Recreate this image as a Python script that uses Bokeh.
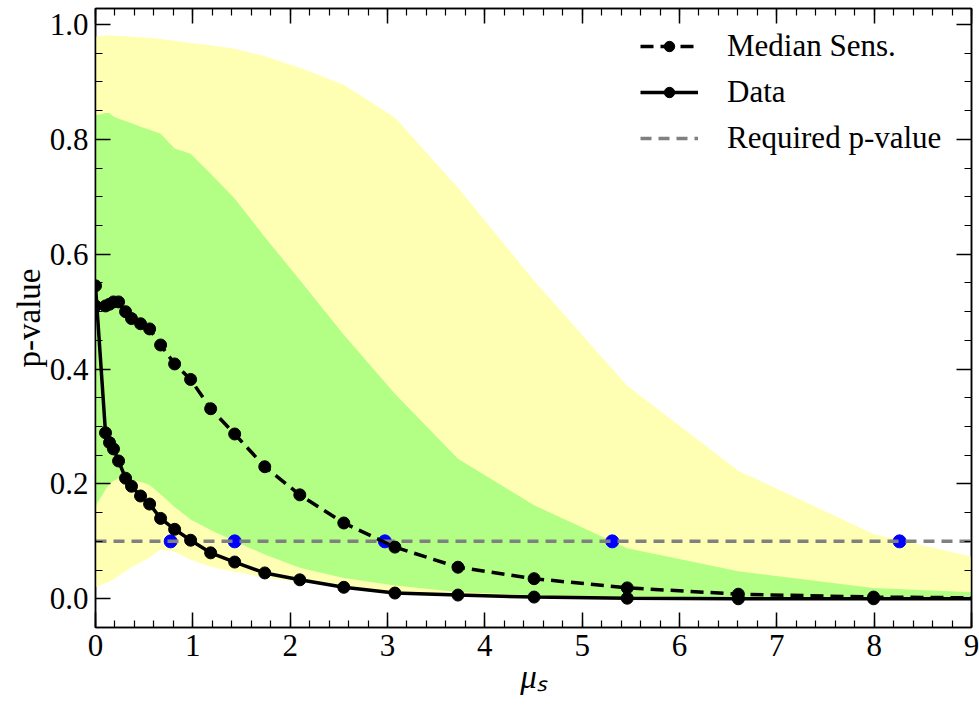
from bokeh.plotting import figure
from bokeh.models import (Range1d, LinearAxis, SingleIntervalTicker, NumeralTickFormatter,
                          CustomJSTickFormatter, Legend, LegendItem, ColumnDataSource)
from bokeh.embed import file_html
from bokeh.resources import INLINE

# ---- data ----
mu = [0.0, 0.103, 0.144, 0.185, 0.237, 0.309, 0.370, 0.463, 0.556, 0.669, 0.813, 0.977,
      1.183, 1.430, 1.739, 2.099, 2.551, 3.076, 3.724, 4.506, 5.463, 6.605, 7.994, 9.6]
median_sens = [0.510, 0.510, 0.513, 0.517, 0.517, 0.500, 0.488, 0.479, 0.470, 0.442, 0.409, 0.382,
               0.331, 0.287, 0.230, 0.181, 0.132, 0.090, 0.055, 0.035, 0.019, 0.008, 0.003, 0.001]
data_p = [0.545, 0.289, 0.272, 0.261, 0.240, 0.210, 0.196, 0.179, 0.165, 0.140, 0.121, 0.102,
          0.080, 0.064, 0.045, 0.033, 0.020, 0.010, 0.0065, 0.003, 0.001, 0.0, 0.0, 0.0]
band2_up = [0.979, 0.981, 0.981, 0.981, 0.980, 0.980, 0.979, 0.978, 0.977, 0.975, 0.972, 0.968,
            0.964, 0.958, 0.945, 0.925, 0.895, 0.838, 0.716, 0.554, 0.371, 0.223, 0.113, 0.050]
band1_up = [0.842, 0.846, 0.846, 0.840, 0.836, 0.832, 0.828, 0.822, 0.817, 0.810, 0.784, 0.775,
            0.740, 0.697, 0.630, 0.555, 0.460, 0.357, 0.244, 0.163, 0.088, 0.048, 0.019, 0.007]
band1_lo = [0.161, 0.190, 0.200, 0.205, 0.210, 0.208, 0.206, 0.204, 0.198, 0.182, 0.160, 0.138,
            0.120, 0.100, 0.077, 0.054, 0.036, 0.023, 0.012, 0.006, 0.003, 0.001, 0.0, 0.0]
band2_lo = [0.020, 0.027, 0.030, 0.033, 0.040, 0.048, 0.055, 0.063, 0.072, 0.086, 0.082, 0.068,
            0.056, 0.047, 0.037, 0.029, 0.020, 0.011, 0.005, 0.002, 0.001, 0.0, 0.0, 0.0]
required_p = 0.1
cross_mu = [0.772, 1.430, 2.973, 5.309, 8.261]

FONT = "Liberation Serif"

src = ColumnDataSource(dict(mu=mu, med=median_sens, dat=data_p, y2u=band2_up, y1u=band1_up,
                            y1l=band1_lo, y2l=band2_lo))

p = figure(frame_width=876, frame_height=619, output_backend="svg", toolbar_location=None,
           x_range=Range1d(0, 9), y_range=Range1d(-0.05, 1.028),
           min_border_left=95, min_border_right=8, min_border_top=8, min_border_bottom=79)
p.xgrid.visible = False
p.ygrid.visible = False
p.outline_line_color = "black"
p.outline_line_width = 1.5
p.background_fill_color = "white"

p.varea(x="mu", y1="y2l", y2="y2u", source=src, fill_color="#FFFFB3")
p.varea(x="mu", y1="y1l", y2="y1u", source=src, fill_color="#B3FF86")

p.scatter(cross_mu, [required_p] * len(cross_mu), size=13, color="blue")
req = p.line([0, 9], [required_p, required_p], line_color="gray", line_width=3.5, line_dash="11 7")

med_l = p.line(x="mu", y="med", source=src, line_color="black", line_width=3.5, line_dash="13 7")
med_s = p.scatter(x="mu", y="med", source=src, size=12, color="black")
dat_l = p.line(x="mu", y="dat", source=src, line_color="black", line_width=3.5)
dat_s = p.scatter(x="mu", y="dat", source=src, size=12, color="black")

# axes
def style_axis(ax, labels=True):
    ax.axis_line_color = "black"
    ax.axis_line_width = 1.5
    ax.major_tick_in = 15
    ax.major_tick_out = 0
    ax.minor_tick_in = 7
    ax.minor_tick_out = 0
    ax.major_tick_line_width = 1.5
    ax.minor_tick_line_width = 1.2
    ax.major_label_text_font = FONT
    ax.major_label_text_color = "black"
    if labels:
        ax.major_label_text_font_size = "31px"
        ax.major_label_standoff = 7
    else:
        ax.formatter = CustomJSTickFormatter(code="return ''")
        ax.major_label_text_font_size = "1px"
        ax.major_label_standoff = 0

xa = p.xaxis[0]
xa.ticker = SingleIntervalTicker(interval=1, num_minor_ticks=5)
xa.formatter = NumeralTickFormatter(format="0")
style_axis(xa)
xa.axis_label = "μₛ"
xa.axis_label_text_font = FONT
xa.axis_label_text_font_size = "33px"
xa.axis_label_text_font_style = "italic"
xa.axis_label_text_color = "black"
xa.axis_label_standoff = 0

ya = p.yaxis[0]
ya.ticker = SingleIntervalTicker(interval=0.2, num_minor_ticks=4)
ya.formatter = NumeralTickFormatter(format="0.0")
style_axis(ya)
ya.axis_label = "p-value"
ya.axis_label_text_font = FONT
ya.axis_label_text_font_size = "33px"
ya.axis_label_text_font_style = "normal"
ya.axis_label_text_color = "black"
ya.axis_label_standoff = 0

top = LinearAxis(ticker=SingleIntervalTicker(interval=1, num_minor_ticks=5))
style_axis(top, labels=False)
p.add_layout(top, "above")
right = LinearAxis(ticker=SingleIntervalTicker(interval=0.2, num_minor_ticks=4))
style_axis(right, labels=False)
p.add_layout(right, "right")

legend = Legend(items=[LegendItem(label="Median Sens.", renderers=[med_l, med_s]),
                       LegendItem(label="Data", renderers=[dat_l, dat_s]),
                       LegendItem(label="Required p-value", renderers=[req])],
                location=(545, 471))
legend.label_text_font = FONT
legend.label_text_font_size = "31px"
legend.label_text_color = "black"
legend.border_line_color = None
legend.background_fill_alpha = 0
legend.glyph_width = 58
legend.glyph_height = 26
legend.label_height = 26
legend.label_standoff = 29
legend.spacing = 10
legend.padding = 0
legend.margin = 0
p.add_layout(legend)

open("out.html", "w").write(file_html(p, INLINE))
